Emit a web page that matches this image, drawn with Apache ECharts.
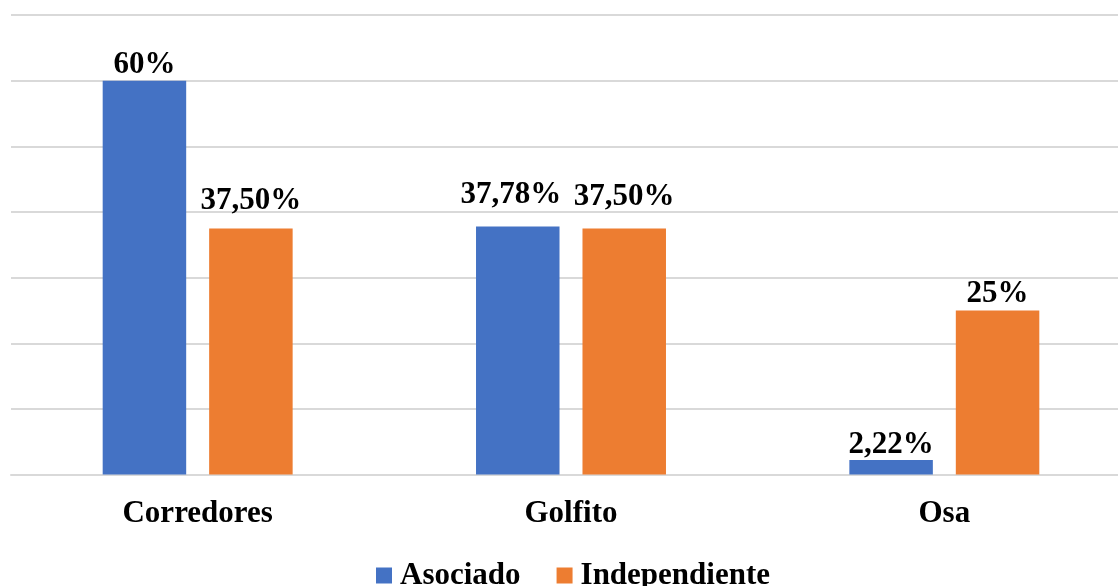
<!DOCTYPE html>
<html>
<head>
<meta charset="utf-8">
<script src="https://cdn.jsdelivr.net/npm/echarts@6/dist/echarts.min.js"></script>
<style>
  html, body { margin: 0; padding: 0; background: #fff; overflow: hidden; }
  /* plot runs slightly past the right edge of the window */
  #chart { width: 1131px; height: 586px; }
</style>
</head>
<body>
<div id="chart"></div>
<script>
const categories = ['Corredores', 'Golfito', 'Osa'];
const asociado = [60, 37.78, 2.22];
const independiente = [37.5, 37.5, 25];
const yTicks = [0, 10, 20, 30, 40, 50, 60, 70];

const FONT = "'Liberation Serif', 'Times New Roman', serif";

// hand-placed label nudges (x, y in px) per category
const asociadoLabelShift = [[0, 0], [-7, -16], [0, 0]];
const independienteLabelShift = [[0, -12], [0, -16], [0, -1]];

function pct(v) {
  return Number.isInteger(v) ? v + '%' : v.toFixed(2).replace('.', ',') + '%';
}

const barLabel = {
  show: true,
  position: 'top',
  distance: 0,
  color: '#000',
  fontFamily: FONT,
  fontWeight: 'bold',
  fontSize: 31,
  formatter: p => pct(p.value)
};

function items(values, shifts) {
  return values.map((v, i) => ({ value: v, label: { offset: shifts[i] } }));
}

const chart = echarts.init(document.getElementById('chart'), null, { renderer: 'canvas' });
chart.setOption({
  animation: false,
  backgroundColor: '#fff',
  grid: { left: 11, top: 15, right: 0, height: 459.6, containLabel: false },
  legend: {
    data: ['Asociado', 'Independiente'],
    left: 376,
    top: 560,
    padding: 0,
    itemWidth: 16,
    itemHeight: 16,
    itemGap: 36,
    icon: 'rect',
    textStyle: {
      color: '#000',
      fontFamily: FONT,
      fontWeight: 'bold',
      fontSize: 31,
      padding: [0, 0, 0, 3]
    }
  },
  xAxis: {
    type: 'category',
    data: categories,
    axisTick: { show: false },
    axisLine: { lineStyle: { color: '#d9d9d9', width: 2 } },
    axisLabel: {
      margin: 24,
      color: '#000',
      fontFamily: FONT,
      fontWeight: 'bold',
      fontSize: 31
    }
  },
  yAxis: {
    type: 'value',
    min: yTicks[0],
    max: yTicks[yTicks.length - 1],
    interval: 10,
    axisLabel: { show: false },
    axisLine: { show: false },
    axisTick: { show: false },
    splitLine: { lineStyle: { color: '#d9d9d9', width: 2 } }
  },
  series: [
    {
      name: 'Asociado',
      type: 'bar',
      data: items(asociado, asociadoLabelShift),
      barWidth: 83.5,
      barGap: '27.5%',
      itemStyle: { color: '#4472C4' },
      label: barLabel
    },
    {
      name: 'Independiente',
      type: 'bar',
      data: items(independiente, independienteLabelShift),
      barWidth: 83.5,
      itemStyle: { color: '#ED7D31' },
      label: barLabel
    }
  ]
});
</script>
</body>
</html>
